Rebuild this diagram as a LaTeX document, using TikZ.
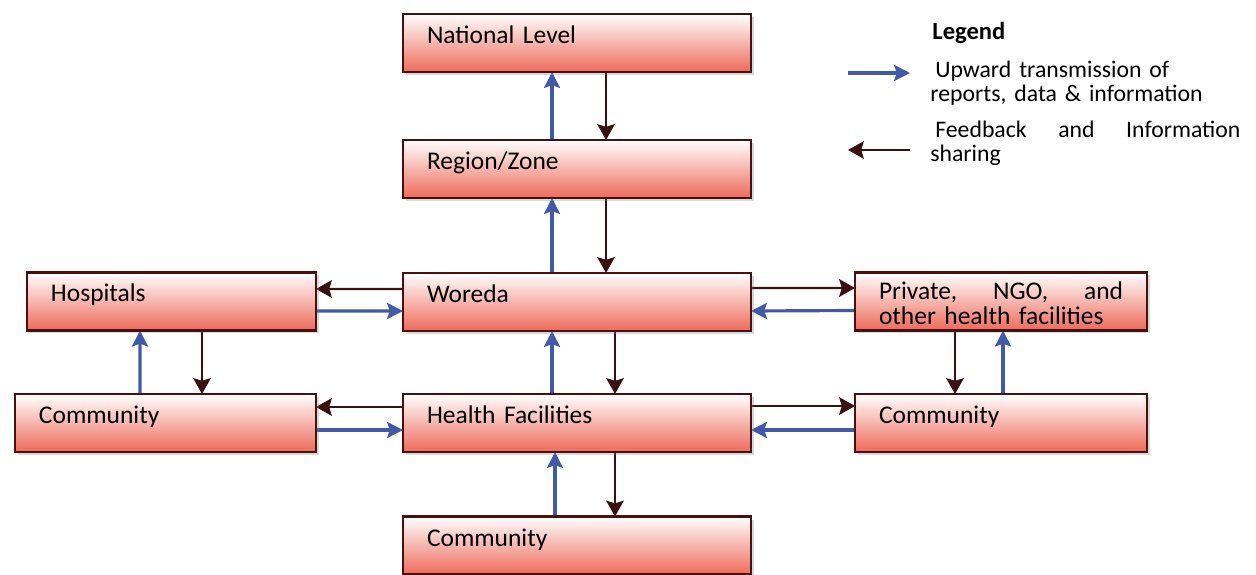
\documentclass[tikz,border=0pt]{standalone}
\usepackage{fontspec}
\setmainfont{Carlito}
\usepackage{tikz}
\usetikzlibrary{
	arrows.meta,
	backgrounds,
	shadows,
	}
\definecolor{boxred}{RGB}{238,106,90}
\definecolor{boxline}{RGB}{72,16,16}
\definecolor{upblue}{RGB}{64,90,168}
\definecolor{backbrown}{RGB}{58,16,16}

\begin{document}
\begin{tikzpicture}[level/.style={draw=boxline,line width=1.6pt,shape=rectangle,top color=white,middle color=boxred!40,bottom color=boxred,minimum height=1.16cm,text width=#1,inner xsep=0.48cm,inner ysep=0pt,outer sep=0pt,align=left,font=\fontsize{14.5}{14}\selectfont,drop shadow={shadow xshift=0.05cm,shadow yshift=-0.06cm,opacity=0.3}},
oneline/.style={text height=0.35cm,text depth=0.33cm},
up/.style={upblue,line width=1.8pt,-{Stealth[length=9pt,width=9pt,inset=1.5pt]}},
down/.style={backbrown,line width=1.3pt,-{Stealth[length=9pt,width=10pt,inset=1.5pt]}},
legtext/.style={anchor=west,inner sep=0pt,text width=6.2cm,align=left,font=\fontsize{13.5}{13.6}\selectfont}]
\useasboundingbox (0,0) rectangle (25.12,-11.5);
\node[level=6cm,oneline] (nat) at (11.54,-0.86) {National Level};
\node[level=6cm,oneline] (reg) at (11.54,-3.38) {Region/Zone};
\node[level=6cm,oneline] (wor) at (11.54,-6.04) {Woreda};
\node[level=4.82cm,oneline] (hos) at (3.43,-6.03) {Hospitals};
\node[level=4.88cm,text depth=0.42cm] (pri) at (20.02,-6.03) {\makebox[4.88cm]{Private,\hfill NGO,\hfill and}\\other health facilities};
\node[level=5.06cm,oneline] (comL) at (3.31,-8.46) {Community};
\node[level=6cm,oneline] (hf) at (11.54,-8.46) {Health Facilities};
\node[level=4.88cm,oneline] (comR) at (20.02,-8.46) {Community};
\node[level=6cm,oneline] (comB) at (11.54,-10.91) {Community};
\begin{scope}[on background layer]
\draw[up] ([xshift=-0.5cm]reg.north) -- ([xshift=-0.5cm]nat.south);
\draw[down] ([xshift=0.58cm]nat.south) -- ([xshift=0.58cm]reg.north);
\draw[up] ([xshift=-0.5cm]wor.north) -- ([xshift=-0.5cm]reg.south);
\draw[down] ([xshift=0.58cm]reg.south) -- ([xshift=0.58cm]wor.north);
\draw[down] ([yshift=0.26cm]wor.west) -- ([yshift=0.25cm]hos.east);
\draw[up] ([yshift=-0.19cm]hos.east) -- ([yshift=-0.18cm]wor.west);
\draw[down] ([yshift=0.28cm]wor.east) -- ([yshift=0.27cm]pri.west);
\draw[up] ([yshift=-0.18cm]pri.west) -- ([yshift=-0.18cm]wor.east);
\draw[up] ([xshift=-0.51cm]comL.north) -- ([xshift=-0.63cm]hos.south);
\draw[down] ([xshift=0.61cm]hos.south) -- ([xshift=0.73cm]comL.north);
\draw[up] ([xshift=-0.5cm]hf.north) -- ([xshift=-0.5cm]wor.south);
\draw[down] ([xshift=0.76cm]wor.south) -- ([xshift=0.76cm]hf.north);
\draw[down] ([yshift=0.32cm]hf.west) -- ([yshift=0.32cm]comL.east);
\draw[up] ([yshift=-0.14cm]comL.east) -- ([yshift=-0.14cm]hf.west);
\draw[down] ([yshift=0.34cm]hf.east) -- ([yshift=0.34cm]comR.west);
\draw[up] ([yshift=-0.14cm]comR.west) -- ([yshift=-0.14cm]hf.east);
\draw[down] ([xshift=-0.92cm]pri.south) -- ([xshift=-0.92cm]comR.north);
\draw[up] ([xshift=0.04cm]comR.north) -- ([xshift=0.04cm]pri.south);
\draw[up] ([xshift=-0.44cm]comB.north) -- ([xshift=-0.44cm]hf.south);
\draw[down] ([xshift=0.76cm]hf.south) -- ([xshift=0.76cm]comB.north);
\end{scope}
% legend
\node[anchor=west,inner sep=0pt,font=\bfseries\fontsize{14}{14}\selectfont] (leg) at (18.64,-0.66) {Legend};
\coordinate (lu1) at (16.96,-1.46);
\coordinate (lu2) at (18.2,-1.46);
\coordinate (lf1) at (18.2,-3.0);
\coordinate (lf2) at (16.96,-3.0);
\draw[up] (lu1) -- (lu2);
\draw[down] (lf1) -- (lf2);
\node[legtext] (legu) at (18.6,-1.67) {\hspace*{0.1cm}Upward transmission of\\reports, data \& information};
\node[legtext] (legf) at (18.6,-2.87) {\makebox[6.2cm]{\hspace*{0.1cm}Feedback\hfill and\hfill Information}\\sharing};
\end{tikzpicture}
\end{document}
